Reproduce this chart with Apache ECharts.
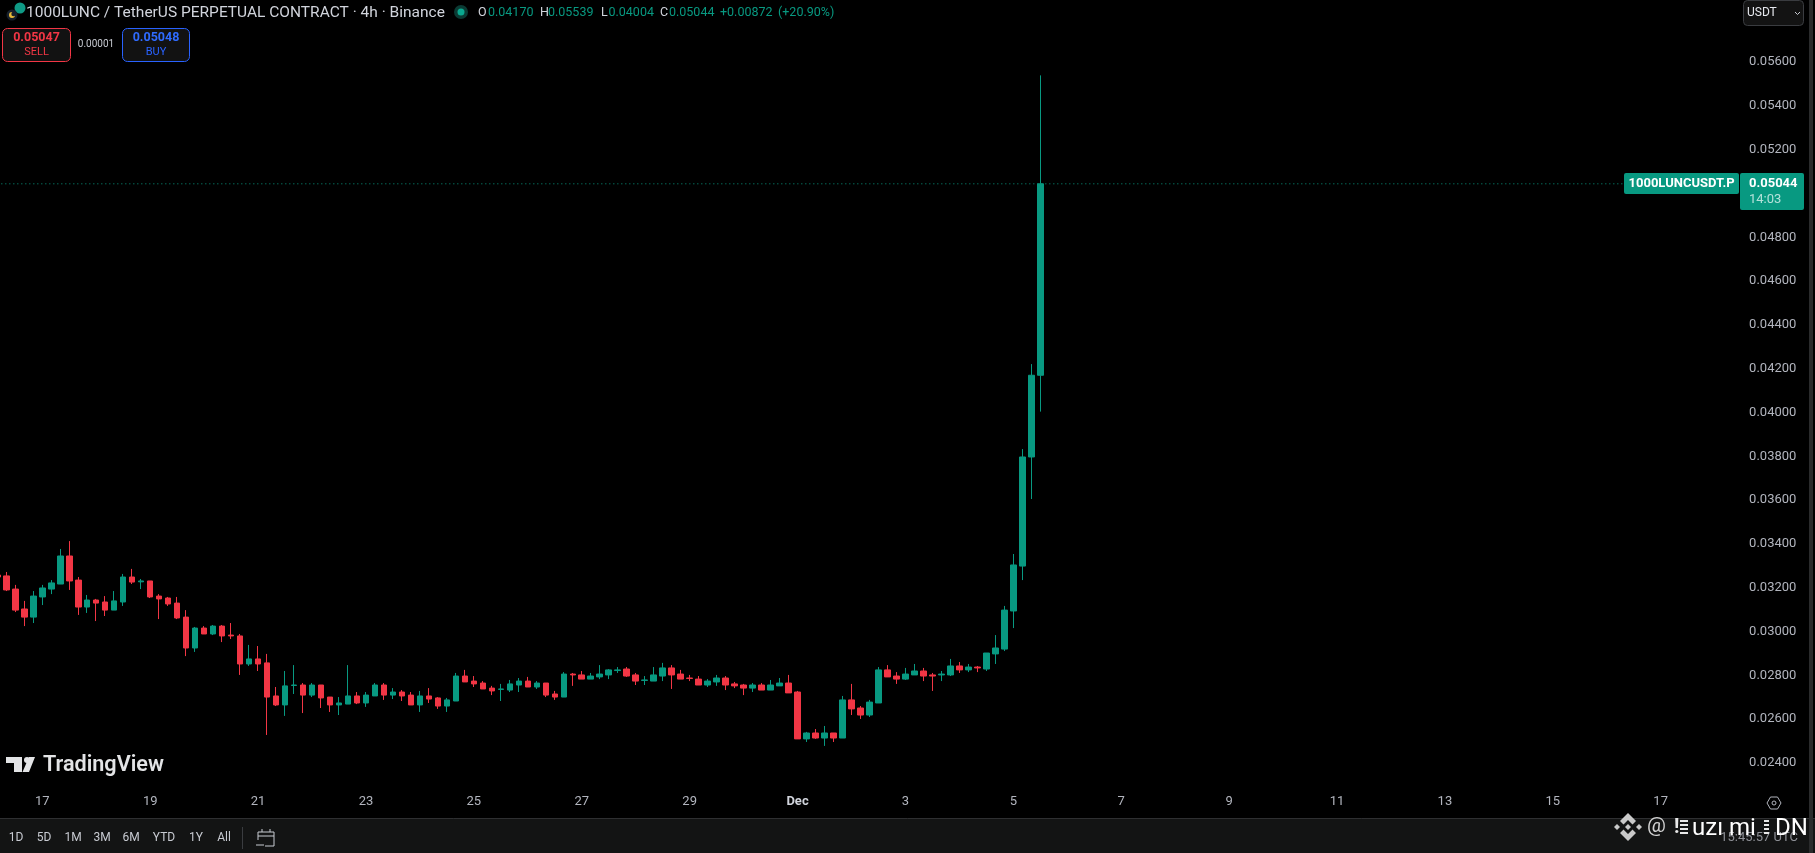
<!DOCTYPE html>
<html><head><meta charset="utf-8">
<style>html,body{margin:0;padding:0;background:#000;overflow:hidden}#c{width:1815px;height:853px}</style>
<script src="https://cdn.jsdelivr.net/npm/echarts@6/dist/echarts.min.js"></script>
</head><body><div id="c"></div>
<script>
const opens=[0.03258,0.03254,0.03194,0.03103,0.03066,0.03158,0.03194,0.03217,0.03345,0.03235,0.03112,0.03144,0.03135,0.03098,0.03135,0.03249,0.03227,0.03231,0.03162,0.03153,0.03130,0.03066,0.02925,0.03016,0.02989,0.03025,0.02984,0.02980,0.02852,0.02875,0.02857,0.02706,0.02665,0.02754,0.02756,0.02710,0.02756,0.02701,0.02665,0.02669,0.02706,0.02674,0.02706,0.02756,0.02710,0.02724,0.02710,0.02665,0.02706,0.02697,0.02660,0.02683,0.02797,0.02774,0.02765,0.02742,0.02736,0.02733,0.02756,0.02774,0.02747,0.02765,0.02715,0.02701,0.02806,0.02802,0.02783,0.02793,0.02802,0.02822,0.02829,0.02802,0.02777,0.02774,0.02797,0.02834,0.02806,0.02788,0.02783,0.02756,0.02770,0.02788,0.02761,0.02756,0.02742,0.02756,0.02733,0.02752,0.02765,0.02724,0.02510,0.02537,0.02514,0.02537,0.02514,0.02688,0.02651,0.02619,0.02674,0.02825,0.02797,0.02783,0.02802,0.02820,0.02802,0.02802,0.02802,0.02843,0.02825,0.02838,0.02829,0.02898,0.02920,0.03094,0.03299,0.03797,0.04170];
const closes=[0.03249,0.03190,0.03098,0.03066,0.03162,0.03199,0.03222,0.03345,0.03231,0.03112,0.03144,0.03130,0.03098,0.03140,0.03249,0.03226,0.03231,0.03158,0.03149,0.03126,0.03062,0.02925,0.03016,0.02989,0.03025,0.02980,0.02980,0.02852,0.02875,0.02852,0.02701,0.02665,0.02752,0.02756,0.02710,0.02756,0.02697,0.02665,0.02674,0.02706,0.02674,0.02710,0.02756,0.02710,0.02724,0.02706,0.02665,0.02706,0.02692,0.02660,0.02688,0.02797,0.02770,0.02761,0.02738,0.02729,0.02738,0.02761,0.02774,0.02747,0.02765,0.02710,0.02701,0.02806,0.02802,0.02783,0.02797,0.02806,0.02825,0.02825,0.02797,0.02774,0.02779,0.02802,0.02834,0.02802,0.02783,0.02786,0.02756,0.02774,0.02788,0.02756,0.02752,0.02742,0.02756,0.02733,0.02756,0.02765,0.02720,0.02510,0.02537,0.02514,0.02537,0.02514,0.02688,0.02647,0.02619,0.02678,0.02825,0.02793,0.02783,0.02806,0.02820,0.02797,0.02797,0.02806,0.02843,0.02825,0.02838,0.02834,0.02902,0.02925,0.03098,0.03304,0.03797,0.04170,0.05044];
const lows=[0.03249,0.03185,0.03089,0.03025,0.03039,0.03121,0.03171,0.03217,0.03190,0.03076,0.03085,0.03048,0.03071,0.03098,0.03117,0.03217,0.03194,0.03153,0.03057,0.03117,0.03057,0.02888,0.02907,0.02989,0.02984,0.02952,0.02966,0.02802,0.02843,0.02820,0.02528,0.02660,0.02615,0.02715,0.02628,0.02701,0.02651,0.02633,0.02619,0.02669,0.02669,0.02656,0.02706,0.02688,0.02692,0.02683,0.02665,0.02633,0.02674,0.02647,0.02633,0.02683,0.02770,0.02747,0.02738,0.02710,0.02683,0.02724,0.02724,0.02747,0.02738,0.02701,0.02688,0.02701,0.02752,0.02783,0.02783,0.02783,0.02783,0.02811,0.02793,0.02756,0.02756,0.02774,0.02774,0.02738,0.02783,0.02774,0.02756,0.02747,0.02752,0.02733,0.02742,0.02710,0.02724,0.02733,0.02733,0.02752,0.02720,0.02510,0.02496,0.02510,0.02478,0.02496,0.02514,0.02619,0.02601,0.02610,0.02674,0.02793,0.02761,0.02779,0.02802,0.02774,0.02729,0.02774,0.02797,0.02811,0.02815,0.02815,0.02820,0.02852,0.02911,0.03016,0.03235,0.03605,0.04004];
const highs=[0.03258,0.03272,0.03213,0.03140,0.03185,0.03213,0.03235,0.03377,0.03413,0.03249,0.03167,0.03149,0.03162,0.03185,0.03263,0.03286,0.03240,0.03231,0.03171,0.03158,0.03158,0.03098,0.03021,0.03025,0.03030,0.03030,0.03039,0.02989,0.02939,0.02934,0.02898,0.02747,0.02820,0.02847,0.02765,0.02765,0.02756,0.02701,0.02701,0.02847,0.02724,0.02724,0.02765,0.02765,0.02742,0.02733,0.02724,0.02729,0.02742,0.02701,0.02697,0.02811,0.02825,0.02797,0.02774,0.02752,0.02761,0.02779,0.02788,0.02793,0.02774,0.02765,0.02729,0.02815,0.02811,0.02820,0.02811,0.02847,0.02829,0.02838,0.02838,0.02811,0.02797,0.02838,0.02857,0.02847,0.02825,0.02802,0.02797,0.02783,0.02802,0.02797,0.02770,0.02761,0.02765,0.02765,0.02779,0.02788,0.02802,0.02729,0.02542,0.02555,0.02569,0.02537,0.02706,0.02761,0.02660,0.02688,0.02838,0.02847,0.02815,0.02834,0.02852,0.02834,0.02811,0.02820,0.02875,0.02861,0.02852,0.02843,0.02902,0.02984,0.03117,0.03354,0.03833,0.04221,0.05539];
const firstCandle=Date.UTC(2024,10,16,4);
const slotCount=194;
const lastPrice=0.05044;
const GREEN='#089981',RED='#F23645',AXIS='#b2b5be';
const FONT='Roboto, sans-serif';
const categories=[];for(let i=0;i<slotCount;i++)categories.push(firstCandle+i*4*3600*1000);
const isTick=v=>{const d=new Date(+v);return d.getUTCHours()===0&&d.getUTCDate()%2===1;};
const ohlc=opens.map((o,i)=>[o,closes[i],lows[i],highs[i]]);

const txt=(x,y,text,fill,font,align)=>({type:'text',z:100,silent:true,style:{x,y,text,fill,font:font||('13px '+FONT),align:align||'left',verticalAlign:'middle'}});
const rect=(x,y,w,h,fill,stroke,r,z)=>({type:'rect',z:z||90,silent:true,shape:{x,y,width:w,height:h,r:r||0},style:{fill:fill,stroke:stroke||null,lineWidth:1}});
const circ=(cx,cy,r,fill,z)=>({type:'circle',z:z||100,silent:true,shape:{cx,cy,r},style:{fill}});
const poly=(pts,fill,z)=>({type:'polygon',z:z||100,silent:true,shape:{points:pts},style:{fill}});
const line=(x1,y1,x2,y2,c,z)=>({type:'line',z:z||100,silent:true,shape:{x1,y1,x2,y2},style:{stroke:c,lineWidth:1}});
const diamond=(cx,cy,r,fill)=>poly([[cx,cy-r],[cx+r,cy],[cx,cy+r],[cx-r,cy]],fill,110);
const BN='#c9c9c9';

const gfx=[
 rect(0,818,1815,35,'#131414',null,0,80),
 line(0,818.5,1815,818.5,'#2e2f31',81),
 rect(1809,0,4,853,'#2a2b2c',null,0,82),
 // header
 circ(20,8,5.5,'#0f9a85'),circ(12,15,5.5,'#17202c'),circ(12,15,3,'#e8b93a'),circ(13.5,14,2.2,'#17202c',101),
 txt(26,13,'1000LUNC / TetherUS PERPETUAL CONTRACT · 4h · Binance','#d1d4dc','15.5px '+FONT),
 circ(461,12,7,'#0b3b34'),circ(461,12,3.5,'#0aa88f',101),
 txt(478,13,'O','#d1d4dc','12.5px '+FONT),txt(488,13,'0.04170',GREEN,'12.5px '+FONT),
 txt(540,13,'H','#d1d4dc','12.5px '+FONT),txt(548,13,'0.05539',GREEN,'12.5px '+FONT),
 txt(601,13,'L','#d1d4dc','12.5px '+FONT),txt(608.5,13,'0.04004',GREEN,'12.5px '+FONT),
 txt(660,13,'C','#d1d4dc','12.5px '+FONT),txt(669,13,'0.05044',GREEN,'12.5px '+FONT),
 txt(720,13,'+0.00872',GREEN,'12.5px '+FONT),txt(778,13,'(+20.90%)',GREEN,'12.5px '+FONT),
 // sell / buy
 rect(2.5,28.5,68,33,'#121212',RED,5),rect(122.5,28.5,67,33,'#121212','#2962ff',5),
 txt(36.5,38,'0.05047',RED,'bold 12.5px '+FONT,'center'),txt(36.5,52,'SELL',RED,'11px '+FONT,'center'),
 txt(96,44.5,'0.00001','#c8cbd2','10px '+FONT,'center'),
 txt(156,38,'0.05048','#2f6bff','bold 12.5px '+FONT,'center'),txt(156,52,'BUY','#2962ff','11px '+FONT,'center'),
 // currency
 rect(1743.5,0.5,60,25,'#131313','#3a3c40',4),
 txt(1747,13,'USDT','#e6e8ee','12px '+FONT),
 {type:'polyline',z:100,silent:true,shape:{points:[[1795,12],[1797.5,14.5],[1800,12]]},style:{stroke:'#c8cbd2',lineWidth:1,fill:null}},
 // price tags
 rect(1624,173,115,21,GREEN,null,2),rect(1740,173,64,37,GREEN,null,2),
 txt(1628.5,184,'1000LUNCUSDT.P','#fff','bold 13px '+FONT),
 txt(1749,184,'0.05044','#fff','bold 13px '+FONT),txt(1749,200,'14:03','#b5e2da','13px '+FONT),
 // logo
 poly([[6,757],[22,757],[22,772],[14,772],[14,763],[6,763]],'#e3e4e6'),
 circ(27,760,3,'#e3e4e6'),poly([[29,757],[35,757],[29,772],[22.5,772]],'#e3e4e6'),
 txt(43,766,'TradingView','#e3e4e6','600 21.6px '+FONT),
 // range bar
 ...[['1D',16],['5D',44],['1M',73],['3M',102],['6M',131],['YTD',164],['1Y',196],['All',224]].map(([t,x])=>txt(x,838,t,'#c8cbd2','12px '+FONT,'center')),
 line(242.5,827,242.5,849,'#3a3c40'),
 {type:'rect',z:100,silent:true,shape:{x:258,y:832,width:16,height:14},style:{fill:null,stroke:'#c8cbd2',lineWidth:1}},
 line(262,829,262,832,'#c8cbd2'),line(270,829,270,832,'#c8cbd2'),line(258,836,274,836,'#c8cbd2'),
 rect(255,840,10,7,'#131414',null,0,101),line(256,845,264,845,'#c8cbd2',102),
 // settings
 {type:'polygon',z:100,silent:true,shape:{points:[[1767,803],[1770.5,797],[1777.5,797],[1781,803],[1777.5,809],[1770.5,809]]},style:{fill:null,stroke:'#b2b5be',lineWidth:1}},
 {type:'circle',z:100,silent:true,shape:{cx:1774,cy:803,r:2},style:{fill:null,stroke:'#b2b5be',lineWidth:1}},
 // clock + watermark
 txt(1798,838,'15:45:57 UTC','#8e9096','13px '+FONT,'right'),
 poly([[1628,813],[1636,821],[1632.5,824.5],[1628,820],[1623.5,824.5],[1620,821]],BN,110),
 poly([[1628,841],[1636,833],[1632.5,829.5],[1628,834],[1623.5,829.5],[1620,833]],BN,110),
 diamond(1617,827,3,BN),diamond(1639,827,3,BN),diamond(1628,827,3,BN),
 {type:'text',z:110,silent:true,style:{x:1647,y:827,text:'@',fill:'#d2d2d2',font:'21px '+FONT,align:'left',verticalAlign:'middle'}},
 {type:'text',z:110,silent:true,style:{x:1674,y:828,text:'!',fill:'#e8e8e8',font:'bold 20px '+FONT,align:'left',verticalAlign:'middle'}},
 rect(1680,820,8,2,'#e8e8e8',null,0,110),rect(1680,824,8,2,'#e8e8e8',null,0,110),rect(1680,828,8,2,'#e8e8e8',null,0,110),rect(1680,832,8,2,'#e8e8e8',null,0,110),
 {type:'text',z:110,silent:true,style:{x:1692,y:829,text:'uzı mi',fill:'#ffffff',font:'24px '+FONT,align:'left',verticalAlign:'middle'}},
 rect(1764,820,5,2,'#e8e8e8',null,0,110),rect(1764,824,5,2,'#e8e8e8',null,0,110),rect(1764,828,5,2,'#e8e8e8',null,0,110),rect(1764,832,5,2,'#e8e8e8',null,0,110),
 {type:'text',z:110,silent:true,style:{x:1775,y:829,text:'DN',fill:'#ffffff',font:'24px '+FONT,align:'left',verticalAlign:'middle'}}
];

const chart=echarts.init(document.getElementById('c'),null,{renderer:'canvas'});
chart.setOption({
 animation:false,backgroundColor:'#000000',
 grid:{left:-7.16,top:62,width:1744.25,height:701,containLabel:false,outerBoundsMode:'none'},
 xAxis:{type:'category',data:categories,boundaryGap:true,
  axisLine:{show:false},axisTick:{show:false},splitLine:{show:false},
  axisLabel:{show:true,margin:32,color:AXIS,fontFamily:FONT,fontSize:13,hideOverlap:false,
   interval:(i,v)=>isTick(v),
   formatter:v=>{const d=new Date(+v);return d.getUTCDate()===1?'{b|Dec}':String(d.getUTCDate());},
   rich:{b:{fontWeight:'bold',color:'#d1d4dc',fontSize:13,fontFamily:FONT}}}},
 yAxis:{type:'value',position:'right',min:0.024,max:0.056,interval:0.002,scale:true,
  axisLine:{show:false},axisTick:{show:false},splitLine:{show:false},
  axisLabel:{margin:12,padding:[2,0,0,0],color:AXIS,fontFamily:FONT,fontSize:13,formatter:v=>v.toFixed(5),showMinLabel:true,showMaxLabel:true}},
 series:[
  {type:'line',data:categories.map(()=>lastPrice),symbol:'none',silent:true,z:1,
   lineStyle:{color:GREEN,type:[1,3],width:1,opacity:1}},
  {type:'candlestick',data:ohlc,barWidth:6,z:2,
   itemStyle:{color:GREEN,color0:RED,borderColor:GREEN,borderColor0:RED,borderWidth:1}}],
 graphic:gfx
});
</script></body></html>
